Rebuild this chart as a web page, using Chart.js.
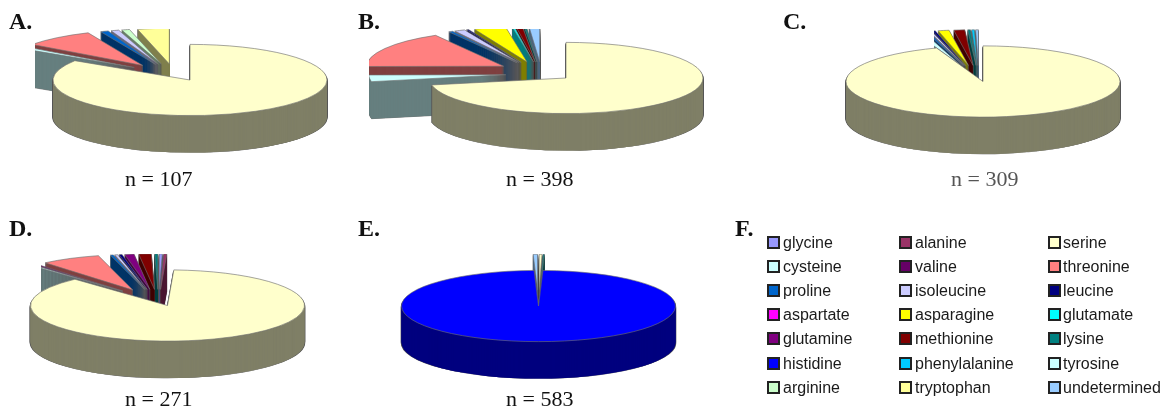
<!DOCTYPE html>
<html>
<head>
<meta charset="utf-8">
<title>Amino acid pies</title>
<script src="https://cdn.jsdelivr.net/npm/chart.js@4/dist/chart.umd.min.js"></script>
<style>
html, body { margin: 0; padding: 0; background: #fff; }
#page { position: relative; width: 1168px; height: 407px; overflow: hidden; background: #fff; }
#page canvas { position: absolute; }
.panel { position: absolute; font: bold 24px/1 "Liberation Serif", serif; color: #111; }
.count { position: absolute; font: 22px/1 "Liberation Serif", serif; color: #111; white-space: pre; }
.name { position: absolute; font: 16px/1 "Liberation Sans", sans-serif; color: #1a1a1a; }
.swatch { position: absolute; width: 9px; height: 9px; border: 2px solid #222; }
</style>
</head>
<body>
<div id="page"></div>
<script>
const categories = ["glycine", "alanine", "serine", "cysteine", "valine", "threonine", "proline",
    "isoleucine", "leucine", "aspartate", "asparagine", "glutamate", "glutamine", "methionine",
    "lysine", "histidine", "phenylalanine", "tyrosine", "arginine", "tryptophan", "undetermined"];

const colors = ["#9999FF", "#993366", "#FFFFCC", "#CCFFFF", "#660066", "#FF8080", "#0066CC",
    "#CCCCFF", "#000080", "#FF00FF", "#FFFF00", "#00FFFF", "#800080", "#800000",
    "#008080", "#0000FF", "#00CCFF", "#CCFFFF", "#CCFFCC", "#FFFF99", "#99CCFF"];

// counts per residue, same order as categories
const countsA = [0, 0, 90, 1, 0, 9, 1, 1, 0, 0, 0, 0, 0, 0, 0, 0, 0, 0, 1, 4, 0];
const countsB = [0, 0, 286, 12, 0, 67, 2, 5, 1, 0, 15, 1, 0, 3, 1, 0, 0, 0, 0, 0, 5];
const countsC = [0, 0, 292, 3, 0, 0, 1, 1, 1, 0, 4, 0, 0, 4, 1, 0, 1, 0, 0, 0, 1];
const countsD = [1, 1, 237, 1, 1, 19, 1, 1, 1, 0, 0, 0, 3, 4, 1, 0, 0, 0, 0, 0, 0];
const countsE = [0, 0, 2, 0, 0, 0, 0, 0, 0, 0, 0, 0, 0, 0, 1, 577, 0, 0, 0, 0, 3];

const panelLabels = ["A.", "B.", "C.", "D.", "E.", "F."];
const countLabels = ["n = 107", "n = 398", "n = 309", "n = 271", "n = 583"];

const page = document.getElementById("page");

const pies = [
    { values: countsA, left: 0, top: 0, cx: 190, cy: 80, clipX: 35, clipY: 29, shift: -14 },
    { values: countsB, left: 350, top: 0, cx: 566, cy: 78, clipX: 369, clipY: 29, shift: -24 },
    { values: countsC, left: 780, top: 0, cx: 983, cy: 81.5, clipX: 934, clipY: 29, shift: -4 },
    { values: countsD, left: 0, top: 205, cx: 167.5, cy: 305.5, clipX: 41, clipY: 254, shift: -9 },
    { values: countsE, left: 350, top: 205, cx: 538.5, cy: 306, clipX: 350, clipY: 254, shift: 0 }
];

function darker(hex) {
    const n = parseInt(hex.slice(1), 16);
    const r = (n >> 16) >> 1, g = ((n >> 8) & 255) >> 1, b = (n & 255) >> 1;
    return "rgb(" + r + "," + g + "," + b + ")";
}

// flattens the pie, pulls the small slices out and stacks copies of each arc for the side wall
const tiltPlugin = {
    id: "tilt",
    beforeDatasetDraw(chart, args, opts) {
        const ctx = chart.ctx;
        const arcs = chart.getDatasetMeta(0).data.filter(a => a.circumference > 0);
        const main = arcs.reduce((a, b) => (b.circumference > a.circumference ? b : a));
        const mid = a => (a.startAngle + a.endAngle) / 2;
        const small = arcs.filter(a => a !== main)
            .sort((a, b) => Math.sin(mid(a)) - Math.sin(mid(b)));

        const paint = (arc, ox, oy, edge) => {
            const base = arc.options;
            const idx = chart.getDatasetMeta(0).data.indexOf(arc);
            const wall = darker(colors[idx]);
            const place = d => {
                ctx.save();
                ctx.translate(opts.x + ox, opts.y + oy + d);
                ctx.scale(1, opts.tilt);
                ctx.translate(-arc.x, -arc.y);
                arc.draw(ctx);
                ctx.restore();
            };
            arc.options = { ...base, backgroundColor: wall, borderColor: "#555555", borderWidth: edge };
            for (let d = opts.depth; d >= 1; d--) place(d);
            arc.options = { ...base, backgroundColor: wall, borderWidth: 0 };
            for (let d = opts.depth; d >= 1; d--) place(d);
            arc.options = base;
            place(0);
        };

        ctx.save();
        ctx.beginPath();
        ctx.rect(opts.clipX, opts.clipY, chart.width, chart.height);
        ctx.clip();
        small.forEach(arc => {
            const m = mid(arc);
            const s = Math.sin(m), c = Math.cos(m);
            const ox = c * opts.pullX + opts.shift * Math.abs(s);
            const oy = s * opts.pullY * opts.tilt - 5 * c * c;
            paint(arc, ox, oy, 1);
        });
        ctx.restore();
        paint(main, 0, 0, 1.5);
        return false;
    }
};

pies.forEach((p) => {
    const canvas = document.createElement("canvas");
    canvas.width = 370;
    canvas.height = 202;
    canvas.style.left = p.left + "px";
    canvas.style.top = p.top + "px";
    page.appendChild(canvas);

    new Chart(canvas, {
        type: "pie",
        data: {
            labels: categories,
            datasets: [{
                data: p.values,
                backgroundColor: colors,
                borderColor: "#707070",
                borderWidth: 1
            }]
        },
        options: {
            responsive: false,
            animation: false,
            events: [],
            radius: 137,
            devicePixelRatio: 1,
            plugins: {
                legend: { display: false },
                tooltip: { enabled: false },
                tilt: {
                    x: p.cx - p.left,
                    y: p.cy - p.top,
                    clipX: p.clipX - p.left,
                    clipY: p.clipY - p.top,
                    shift: p.shift,
                    tilt: 0.26,
                    depth: 37,
                    pullX: 58,
                    pullY: 62
                }
            }
        },
        plugins: [tiltPlugin]
    });
});

function addText(cls, text, x, y, color) {
    const el = document.createElement("div");
    el.className = cls;
    el.textContent = text;
    el.style.left = x + "px";
    el.style.top = y + "px";
    if (color) el.style.color = color;
    page.appendChild(el);
}

const panelSpots = [[9, 9], [358, 9], [783, 9], [9, 216], [358, 216], [735, 216]];
panelLabels.forEach((t, i) => addText("panel", t, panelSpots[i][0], panelSpots[i][1]));

const countSpots = [[125, 168], [506, 168], [951, 168], [125, 388], [506, 388]];
countLabels.forEach((t, i) => addText("count", t, countSpots[i][0], countSpots[i][1], i === 2 ? "#555" : null));

// legend, filled row by row in three columns
const rowY = [243, 267, 291, 315, 339, 364, 388];
const swatchX = [767, 899, 1048];
const nameX = [783, 915, 1063];
categories.forEach((name, i) => {
    const row = Math.floor(i / 3), col = i % 3;
    const box = document.createElement("div");
    box.className = "swatch";
    box.style.left = swatchX[col] + "px";
    box.style.top = (rowY[row] - 7) + "px";
    box.style.background = colors[i];
    page.appendChild(box);
    addText("name", name, nameX[col], rowY[row] - 8);
});
</script>
</body>
</html>
